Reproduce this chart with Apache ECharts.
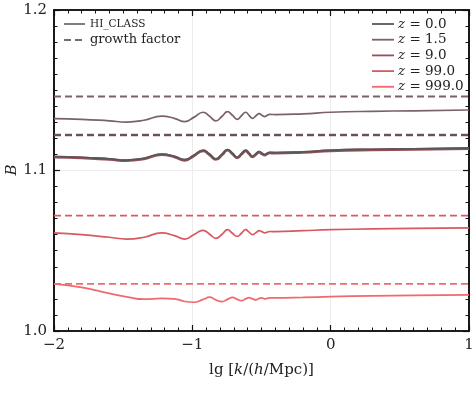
<!DOCTYPE html>
<html>
<head>
<meta charset="utf-8">
<script src="https://cdn.jsdelivr.net/npm/echarts@6/dist/echarts.min.js"></script>
<style>
  html, body { margin: 0; padding: 0; background: #fff; }
  #main { width: 474px; height: 398px; }
</style>
</head>
<body>
<div id="main"></div>
<script>
// lg k grid shared by all curves
const lgk = [-2.0, -1.8, -1.6, -1.475, -1.35, -1.222, -1.13, -1.054, -0.99, -0.922, -0.875, -0.83,
  -0.785, -0.746, -0.71, -0.676, -0.645, -0.614, -0.59, -0.565, -0.54, -0.517, -0.497, -0.477,
  -0.458, -0.44, -0.4, -0.2, 0.0, 0.3, 0.6, 1.0];

// hi_class curves
const bZ0 = [1.1086, 1.1082, 1.1072, 1.1065, 1.1076, 1.1102, 1.1088, 1.1067, 1.1094, 1.1126, 1.1101, 1.1072,
  1.1101, 1.1130, 1.1107, 1.1082, 1.1104, 1.1126, 1.1107, 1.1088, 1.1104, 1.1117, 1.1107, 1.1099,
  1.1107, 1.1113, 1.1111, 1.1116, 1.1126, 1.1132, 1.1135, 1.1140];
const bZ15 = [1.1323, 1.1319, 1.1309, 1.1302, 1.1313, 1.1339, 1.1325, 1.1304, 1.1331, 1.1363, 1.1338, 1.1309,
  1.1338, 1.1367, 1.1344, 1.1319, 1.1341, 1.1363, 1.1344, 1.1325, 1.1341, 1.1354, 1.1344, 1.1336,
  1.1344, 1.1350, 1.1348, 1.1353, 1.1363, 1.1369, 1.1372, 1.1377];
const bZ9 = [1.1083, 1.1079, 1.1069, 1.1062, 1.1073, 1.1099, 1.1085, 1.1064, 1.1091, 1.1123, 1.1098, 1.1069,
  1.1098, 1.1127, 1.1104, 1.1079, 1.1101, 1.1123, 1.1104, 1.1085, 1.1101, 1.1114, 1.1104, 1.1096,
  1.1104, 1.1110, 1.1108, 1.1113, 1.1123, 1.1129, 1.1132, 1.1137];
const bZ99 = [1.0611, 1.0600, 1.0584, 1.0573, 1.0584, 1.0611, 1.0594, 1.0573, 1.0600, 1.0627, 1.0603, 1.0577,
  1.0603, 1.0631, 1.0609, 1.0589, 1.0609, 1.0631, 1.0616, 1.0600, 1.0613, 1.0625, 1.0619, 1.0611,
  1.0616, 1.0620, 1.0619, 1.0625, 1.0631, 1.0636, 1.0639, 1.0642];
const bZ999 = [1.0294, 1.0272, 1.0234, 1.0213, 1.0198, 1.0203, 1.0200, 1.0184, 1.0179, 1.0197, 1.0211, 1.0194,
  1.0183, 1.0197, 1.0209, 1.0197, 1.0189, 1.0200, 1.0208, 1.0200, 1.0194, 1.0203, 1.0206, 1.0200,
  1.0203, 1.0206, 1.0206, 1.0209, 1.0214, 1.0219, 1.0222, 1.0225];

// growth factor (scale independent)
const redshifts = ['0.0', '1.5', '9.0', '99.0', '999.0'];
const growth = [1.1221, 1.1461, 1.1221, 1.0719, 1.0294];
const colors = ['#585858', '#7a6266', '#9a4f58', '#d75a63', '#f0696e'];
const curves = [bZ0, bZ15, bZ9, bZ99, bZ999];
const widths = [1.8, 1.7, 2.8, 1.7, 1.7];
const zOrder = [4, 3, 2, 2, 2];

const xTicks = [-2, -1, 0, 1];
const yTicks = [1.0, 1.1, 1.2];

const font = 'DejaVu Serif';
const chart = echarts.init(document.getElementById('main'));

const series = [];
curves.forEach((ys, i) => {
  series.push({
    name: 'z = ' + redshifts[i],
    type: 'line',
    data: lgk.map((x, j) => [x, ys[j]]),
    smooth: 0.5,
    showSymbol: false,
    z: zOrder[i],
    lineStyle: { color: colors[i], width: widths[i] },
    itemStyle: { color: colors[i] },
  });
  series.push({
    name: 'growth factor',
    type: 'line',
    data: [[xTicks[0], growth[i]], [xTicks[xTicks.length - 1], growth[i]]],
    showSymbol: false,
    z: zOrder[i],
    lineStyle: { color: colors[i], width: i === 2 ? 2.6 : 1.8, type: [7, 4] },
  });
});
// holder series for the minor-tick grid
series.push({ type: 'line', xAxisIndex: 2, yAxisIndex: 2, data: [[xTicks[0], yTicks[0]]], showSymbol: false, silent: true });

// legends drawn as graphic items
const graphic = [];
const leftItems = [
  { y: 24, dashed: false, text: 'HI_CLASS', size: 10.5 },
  { y: 40, dashed: true, text: 'growth factor', size: 13 },
];
leftItems.forEach(it => {
  graphic.push({
    type: 'line', shape: { x1: 64, y1: it.y, x2: 85, y2: it.y },
    style: { stroke: '#707070', lineWidth: 1.8, lineDash: it.dashed ? [7, 4] : null },
  });
  graphic.push({
    type: 'text', x: 90, y: it.y,
    style: { text: it.text, font: it.size + 'px "' + font + '"', fill: '#222', textVerticalAlign: 'middle' },
  });
});
redshifts.forEach((z, i) => {
  const y = 24 + i * 15.7;
  graphic.push({
    type: 'line', shape: { x1: 372, y1: y, x2: 394, y2: y },
    style: { stroke: colors[i], lineWidth: 1.8 },
  });
  graphic.push({
    type: 'text', x: 398, y: y,
    style: {
      text: '{i|z} = ' + z, font: '13.5px "' + font + '"', fill: '#222', textVerticalAlign: 'middle',
      rich: { i: { fontStyle: 'italic', fontFamily: font, fontSize: 13.5, fill: '#222' } },
    },
  });
});
// y-axis title
graphic.push({
  type: 'text', x: 12, y: 170, rotation: Math.PI / 2,
  style: {
    text: 'B', font: 'italic 15px "' + font + '"', fill: '#222',
    textAlign: 'center', textVerticalAlign: 'middle',
  },
});

const axisLine = { show: true, onZero: false, lineStyle: { color: '#111', width: 1.6 } };
const majorTick = { show: true, inside: true, length: 6, lineStyle: { color: '#111', width: 1.2 } };
const minorTick = { show: true, inside: true, length: 3.5, lineStyle: { color: '#111', width: 1 } };
const noLabel = { show: false };
const noSplit = { show: false };
const xRange = { type: 'value', min: xTicks[0], max: xTicks[xTicks.length - 1] };
const yRange = { type: 'value', min: yTicks[0], max: yTicks[yTicks.length - 1] };
const gridBox = { left: 54, right: 5, top: 10, bottom: 67, containLabel: false, outerBoundsMode: 'none' };

chart.setOption({
  animation: false,
  grid: [Object.assign({}, gridBox), Object.assign({}, gridBox)],
  xAxis: [
    Object.assign({}, xRange, {
      gridIndex: 0, interval: 1, position: 'bottom', axisLine: axisLine, axisTick: majorTick,
      axisLabel: {
        margin: 7, color: '#222', fontFamily: font, fontSize: 15,
        formatter: v => (v < 0 ? '\u2212' + Math.abs(v) : String(v)),
      },
      splitLine: { show: true, lineStyle: { color: '#ececec', width: 1 } },
      name: '{n|lg [}{i|k}{n|/(}{i|h}{n|/Mpc)]}',
      nameLocation: 'middle', nameGap: 32,
      nameTextStyle: {
        rich: {
          n: { fontFamily: font, fontSize: 15, color: '#222' },
          i: { fontFamily: font, fontSize: 15, color: '#222', fontStyle: 'italic' },
        },
      },
    }),
    Object.assign({}, xRange, {
      gridIndex: 0, interval: 1, position: 'top', axisLine: axisLine, axisTick: majorTick,
      axisLabel: noLabel, splitLine: noSplit,
    }),
    Object.assign({}, xRange, {
      gridIndex: 1, interval: 0.1, position: 'bottom', axisLine: axisLine, axisTick: minorTick,
      axisLabel: noLabel, splitLine: noSplit,
    }),
    Object.assign({}, xRange, {
      gridIndex: 1, interval: 0.1, position: 'top', axisLine: axisLine, axisTick: minorTick,
      axisLabel: noLabel, splitLine: noSplit,
    }),
  ],
  yAxis: [
    Object.assign({}, yRange, {
      gridIndex: 0, interval: 0.1, position: 'left', axisLine: axisLine, axisTick: majorTick,
      axisLabel: { margin: 7, color: '#222', fontFamily: font, fontSize: 15, formatter: v => v.toFixed(1) },
      splitLine: { show: true, lineStyle: { color: '#ececec', width: 1 } },
    }),
    Object.assign({}, yRange, {
      gridIndex: 0, interval: 0.1, position: 'right', axisLine: axisLine, axisTick: majorTick,
      axisLabel: noLabel, splitLine: noSplit,
    }),
    Object.assign({}, yRange, {
      gridIndex: 1, interval: 0.01, position: 'left', axisLine: axisLine, axisTick: minorTick,
      axisLabel: noLabel, splitLine: noSplit,
    }),
    Object.assign({}, yRange, {
      gridIndex: 1, interval: 0.01, position: 'right', axisLine: axisLine, axisTick: minorTick,
      axisLabel: noLabel, splitLine: noSplit,
    }),
  ],
  graphic: graphic,
  series: series,
});
</script>
</body>
</html>
